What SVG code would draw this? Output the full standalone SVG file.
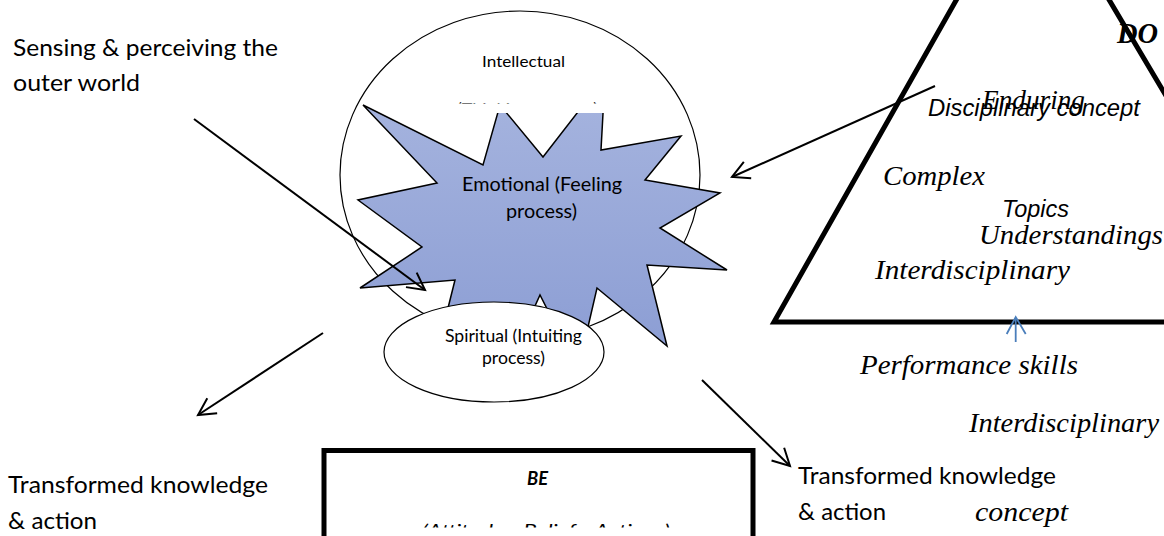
<svg xmlns="http://www.w3.org/2000/svg" width="1164" height="536" viewBox="0 0 1164 536">
<defs>
<style>
.cal{font-family:Lato,"Liberation Sans",sans-serif;fill:#000}
.ser{font-family:"Liberation Serif",serif;font-style:italic;fill:#000}
.ari{font-family:"Liberation Sans",Arial,sans-serif;font-style:italic;fill:#000}
.conn{stroke:#000;stroke-width:2;fill:none}
</style>
<linearGradient id="starFill" x1="0" y1="0" x2="0" y2="1">
<stop offset="0" stop-color="#a7b5df"/>
<stop offset="1" stop-color="#8a9cd3"/>
</linearGradient>
<marker id="ah" markerUnits="userSpaceOnUse" markerWidth="30" markerHeight="30" viewBox="-25 -15 30 30" refX="0" refY="0" orient="auto">
<path d="M-17,-9 L0,0 L-17,9" fill="none" stroke="#000" stroke-width="2"/>
</marker>
<clipPath id="clipThink"><rect x="400" y="80" width="260" height="23.5"/></clipPath>
<clipPath id="clipAtt"><rect x="330" y="500" width="420" height="27.5"/></clipPath>
</defs>
<rect width="1164" height="536" fill="#fff"/>

<g id="intellectual">
<ellipse cx="520" cy="175" rx="180" ry="164" fill="#fff" stroke="#000" stroke-width="1.2"/>
</g>

<g id="emotional">
<polygon points="363,105 483,165 500,105 543,157 605,77 601,150 681,136 645,180 720,193 660,228 727,270 647,265 667,346 597,288 578,370 540,295 505,372 478,318 436,356 455,280 360,288 422,247 358,200 437,183" fill="url(#starFill)" stroke="#000" stroke-width="1.5" stroke-linejoin="miter"/>
<text class="cal" x="462" y="191" font-size="19" textLength="160" lengthAdjust="spacingAndGlyphs">Emotional (Feeling</text>
<text class="cal" x="506" y="218" font-size="19" textLength="71" lengthAdjust="spacingAndGlyphs">process)</text>
</g>

<g id="intellectual-label">
<rect x="455" y="40" width="152" height="73" fill="#fff"/>
<text class="cal" x="482" y="66.5" font-size="16.2" textLength="83" lengthAdjust="spacingAndGlyphs">Intellectual</text>
<text class="cal" x="457" y="113.5" font-size="16.2" textLength="141" lengthAdjust="spacingAndGlyphs" clip-path="url(#clipThink)">(Thinking process)</text>
</g>

<g id="spiritual">
<ellipse cx="494" cy="352" rx="110" ry="50" fill="#fff" stroke="#000" stroke-width="1.2"/>
<text class="cal" x="445" y="342" font-size="17" textLength="137" lengthAdjust="spacingAndGlyphs">Spiritual (Intuiting</text>
<text class="cal" x="482" y="364" font-size="17" textLength="63" lengthAdjust="spacingAndGlyphs">process)</text>
</g>

<g id="be">
<rect x="324" y="450.5" width="429" height="110" fill="#fff" stroke="#000" stroke-width="5"/>
<text class="cal" x="527" y="485" font-size="18.5" font-weight="bold" font-style="italic" textLength="21" lengthAdjust="spacingAndGlyphs">BE</text>
<text class="cal" x="422" y="537" font-size="18" font-style="italic" textLength="248" lengthAdjust="spacingAndGlyphs" clip-path="url(#clipAtt)">(Attitudes, Beliefs, Actions)</text>
</g>

<g id="do">
<polygon points="1031,-132 774,322 1300,322" fill="none" stroke="#000" stroke-width="5" stroke-linejoin="miter"/>
<text class="ser" x="1117" y="43" font-size="29" font-weight="bold" textLength="41" lengthAdjust="spacingAndGlyphs">DO</text>
<text class="ari" x="928" y="116" font-size="23.5" textLength="212" lengthAdjust="spacingAndGlyphs">Disciplinary concept</text>
<text class="ser" x="982" y="109" font-size="28" textLength="103" lengthAdjust="spacingAndGlyphs">Enduring</text>
<text class="ser" x="883" y="185" font-size="28" textLength="102" lengthAdjust="spacingAndGlyphs">Complex</text>
<text class="ari" x="1002" y="217" font-size="23" textLength="67" lengthAdjust="spacingAndGlyphs">Topics</text>
<text class="ser" x="979" y="244" font-size="28" textLength="184" lengthAdjust="spacingAndGlyphs">Understandings</text>
<text class="ser" x="875" y="279" font-size="28" textLength="195" lengthAdjust="spacingAndGlyphs">Interdisciplinary</text>
</g>

<g id="labels">
<text class="cal" x="13" y="56" font-size="23.5" textLength="265" lengthAdjust="spacingAndGlyphs">Sensing &amp; perceiving the</text>
<text class="cal" x="13" y="91" font-size="23.5" textLength="127" lengthAdjust="spacingAndGlyphs">outer world</text>
<text class="cal" x="8" y="493" font-size="23.5" textLength="260" lengthAdjust="spacingAndGlyphs">Transformed knowledge</text>
<text class="cal" x="8" y="529" font-size="23.5" textLength="89" lengthAdjust="spacingAndGlyphs">&amp; action</text>
<text class="cal" x="798" y="484" font-size="23.5" textLength="258" lengthAdjust="spacingAndGlyphs">Transformed knowledge</text>
<text class="cal" x="798" y="520" font-size="23.5" textLength="88" lengthAdjust="spacingAndGlyphs">&amp; action</text>
<text class="ser" x="860" y="374" font-size="28" textLength="218" lengthAdjust="spacingAndGlyphs">Performance skills</text>
<text class="ser" x="969" y="432" font-size="28" textLength="190" lengthAdjust="spacingAndGlyphs">Interdisciplinary</text>
<text class="ser" x="975" y="521" font-size="28" textLength="93" lengthAdjust="spacingAndGlyphs">concept</text>
</g>

<g id="connectors">
<line class="conn" x1="194" y1="119" x2="425" y2="290" marker-end="url(#ah)"/>
<line class="conn" x1="935" y1="86" x2="732" y2="177" marker-end="url(#ah)"/>
<line class="conn" x1="323" y1="333" x2="198" y2="415" marker-end="url(#ah)"/>
<line class="conn" x1="702" y1="380" x2="790" y2="466" marker-end="url(#ah)"/>
<line x1="1015.7" y1="342" x2="1015.7" y2="318" stroke="#4a7ebb" stroke-width="1.8"/>
<polyline points="1006.7,334 1015.7,317 1025.7,334" fill="none" stroke="#4a7ebb" stroke-width="1.8"/>
</g>
</svg>
